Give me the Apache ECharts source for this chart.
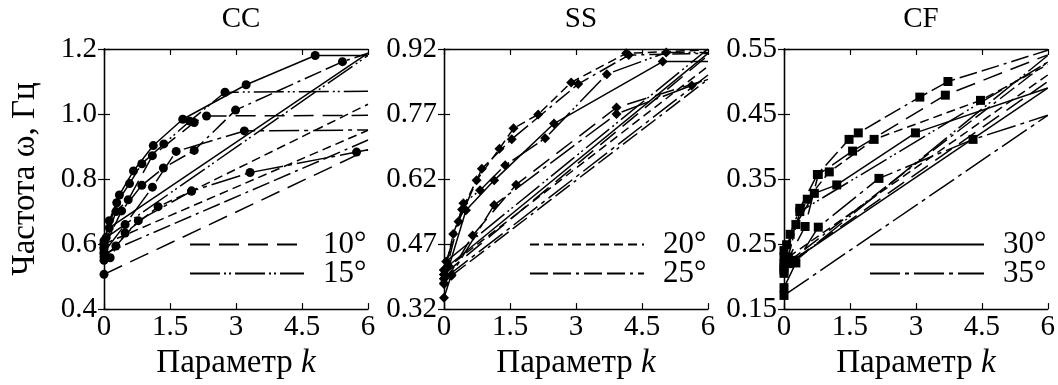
<!DOCTYPE html>
<html>
<head>
<meta charset="utf-8">
<script src="https://cdn.jsdelivr.net/npm/echarts@6/dist/echarts.min.js"></script>
<style>
  html, body { margin: 0; padding: 0; background: #fff; }
  #chart { width: 1058px; height: 385px; }
</style>
</head>
<body>
<div id="chart"></div>
<script>
// panel titles and axis ticks
const panels = ["CC", "SS", "CF"];
const xTicks = [0, 1.5, 3, 4.5, 6];
const ccTicks = [0.4, 0.6, 0.8, 1.0, 1.2];
const ssTicks = [0.32, 0.47, 0.62, 0.77, 0.92];
const cfTicks = [0.15, 0.25, 0.35, 0.45, 0.55];
const angles = ["10°", "15°", "20°", "25°", "30°", "35°"];

// CC curves, [k, omega]; last point is the line end without a marker
const cc10a = [[0, 0.585], [0.27, 0.70], [0.55, 0.736], [1.10, 0.872], [2.05, 0.974], [2.33, 0.994], [6, 0.996]];
const cc10b = [[0, 0.507], [6, 0.89]];
const cc15a = [[0, 0.61], [0.29, 0.727], [0.58, 0.786], [0.86, 0.847], [1.36, 0.908], [1.95, 0.978], [2.75, 1.067], [6, 1.07]];
const cc15b = [[0.05, 0.62], [6, 1.18]];
const cc20a = [[0, 0.55], [0.14, 0.558], [0.48, 0.634], [1.23, 0.715], [1.99, 0.763], [6, 1.03]];
const cc20b = [[0, 0.60], [6, 0.95]];
const cc25a = [[0, 0.59], [0.40, 0.702], [0.86, 0.781], [1.35, 0.834], [2.05, 0.888], [2.99, 1.012], [5.42, 1.161], [6, 1.187]];
const cc25b = [[0, 0.57], [6, 0.92]];
const cc30a = [[0, 0.60], [0.12, 0.672], [0.35, 0.751], [0.67, 0.825], [1.12, 0.903], [1.79, 0.984], [3.23, 1.09], [4.80, 1.18], [6, 1.18]];
const cc30b = [[0.12, 0.65], [6, 1.187]];
const cc35a = [[0, 0.575], [0.48, 0.66], [1.10, 0.775], [1.64, 0.885], [3.19, 0.948], [6, 0.951]];
const cc35b = [[0, 0.56], [0.27, 0.594], [0.78, 0.672], [1.99, 0.763], [3.32, 0.82], [5.74, 0.883], [6, 0.89]];

// SS curves
const ss10a = [[0, 0.378], [0.65, 0.49], [1.64, 0.607], [3.92, 0.785], [6, 0.85]];
const ss10b = [[0, 0.40], [6, 0.905]];
const ss15a = [[0, 0.41], [0.44, 0.564], [0.82, 0.594], [1.39, 0.652], [2.30, 0.714], [3.70, 0.862], [5.05, 0.912], [6, 0.912]];
const ss15b = [[0.05, 0.43], [6, 0.92]];
const ss20a = [[0, 0.40], [0.21, 0.493], [0.41, 0.55], [0.74, 0.617], [1.26, 0.690], [1.58, 0.737], [2.14, 0.769], [2.89, 0.843], [4.14, 0.910], [6, 0.918]];
const ss20b = [[0, 0.41], [6, 0.88]];
const ss25a = [[0, 0.39], [0.33, 0.522], [0.86, 0.644], [1.54, 0.712], [3.05, 0.839], [4.2, 0.906], [6, 0.91]];
const ss25b = [[0.17, 0.397], [6, 0.85]];
const ss30a = [[0, 0.38], [0.5, 0.548], [1.14, 0.617], [2.5, 0.748], [4.97, 0.891], [6, 0.891]];
const ss30b = [[0.1, 0.42], [6, 0.91]];
const ss35a = [[0, 0.346], [0.17, 0.40], [1.14, 0.56], [3.92, 0.77], [5.63, 0.836], [6, 0.85]];
const ss35b = [[0, 0.39], [6, 0.86]];

// CF curves
const cf10a = [[0, 0.215], [0.48, 0.277], [0.78, 0.357], [1.56, 0.393], [3.67, 0.479], [6, 0.541]];
const cf10b = [[0.2, 0.225], [6, 0.50]];
const cf15a = [[0, 0.205], [0.36, 0.30], [6, 0.53]];
const cf15b = [[0, 0.21], [6, 0.54]];
const cf20a = [[0, 0.24], [0.06, 0.249], [0.53, 0.319], [1.03, 0.361], [2.05, 0.411], [4.47, 0.471], [6, 0.526]];
const cf20b = [[0.1, 0.23], [6, 0.51]];
const cf25a = [[0, 0.22], [0.14, 0.265], [0.36, 0.305], [0.76, 0.357], [1.48, 0.411], [1.69, 0.421], [3.09, 0.476], [3.73, 0.500], [6, 0.548]];
const cf25b = [[0.05, 0.22], [6, 0.53]];
const cf30a = [[0, 0.23], [0.27, 0.28], [0.69, 0.328], [1.20, 0.341], [2.99, 0.421], [6, 0.49]];
const cf30b = [[0.1, 0.22], [6, 0.49]];
const cf35a = [[0, 0.183], [0.27, 0.221], [0.78, 0.276], [2.16, 0.351], [4.30, 0.411], [6, 0.448]];
const cf35b = [[0, 0.171], [6, 0.448]];

const FONT = "Liberation Serif";

// dash pattern for every angle
const dashes = {
  "10°": [20, 9],
  "15°": [30, 4, 2, 3, 2, 4],
  "20°": [9, 5],
  "25°": [18, 5, 18, 5, 3, 5],
  "30°": "solid",
  "35°": [30, 5, 4, 5],
};

const panelLines = [
  [[cc10a, "10°"], [cc10b, "10°"], [cc15a, "15°"], [cc15b, "15°"], [cc20a, "20°"], [cc20b, "20°"],
   [cc25a, "25°"], [cc25b, "25°"], [cc30a, "30°"], [cc30b, "30°"], [cc35a, "35°"], [cc35b, "35°"]],
  [[ss10a, "10°"], [ss10b, "10°"], [ss15a, "15°"], [ss15b, "15°"], [ss20a, "20°"], [ss20b, "20°"],
   [ss25a, "25°"], [ss25b, "25°"], [ss30a, "30°"], [ss30b, "30°"], [ss35a, "35°"], [ss35b, "35°"]],
  [[cf10a, "10°"], [cf10b, "10°"], [cf15a, "15°"], [cf15b, "15°"], [cf20a, "20°"], [cf20b, "20°"],
   [cf25a, "25°"], [cf25b, "25°"], [cf30a, "30°"], [cf30b, "30°"], [cf35a, "35°"], [cf35b, "35°"]],
];
const yTicks = [ccTicks, ssTicks, cfTicks];
const yDigits = [1, 2, 2];
const markers = ["circle", "diamond", "rect"];
const markerSize = [9, 10, 9];
const gridLeft = [104, 444, 784];
const GW = 264;

const chart = echarts.init(document.getElementById("chart"), null, { renderer: "canvas" });

const grids = [], xAxes = [], yAxes = [], series = [], titles = [], legends = [];

panels.forEach((name, p) => {
  grids.push({ left: gridLeft[p], top: 49, width: GW, height: 263 });
  const axisLine = { show: true, lineStyle: { color: "#000", width: 1.3 } };
  const tick = { show: true, inside: true, length: 6, lineStyle: { color: "#000", width: 1.2 } };
  const yt = yTicks[p];
  const yInt = +(yt[1] - yt[0]).toFixed(2);

  xAxes.push({
    gridIndex: p, type: "value", min: xTicks[0], max: xTicks[xTicks.length - 1], interval: 1.5,
    axisLine, axisTick: tick, splitLine: { show: false },
    axisLabel: { color: "#000", fontFamily: FONT, fontSize: 29, margin: 4 },
    name: "Параметр {i|k}", nameLocation: "middle", nameGap: 33,
    nameTextStyle: { color: "#000", fontFamily: FONT, fontSize: 33,
      rich: { i: { fontStyle: "italic", fontFamily: FONT, fontSize: 33, color: "#000" } } },
  });
  xAxes.push({
    gridIndex: p, type: "value", position: "top", min: 0, max: 6, interval: 1.5,
    axisLine, axisTick: tick, axisLabel: { show: false }, splitLine: { show: false },
  });
  yAxes.push({
    gridIndex: p, type: "value", min: yt[0], max: yt[yt.length - 1], interval: yInt,
    axisLine, axisTick: tick, splitLine: { show: false },
    axisLabel: { color: "#000", fontFamily: FONT, fontSize: 29, margin: 7,
      formatter: (v) => v.toFixed(yDigits[p]) },
    name: p === 0 ? "Частота ω, Гц" : "", nameLocation: "middle", nameGap: 62, nameRotate: 90,
    nameTextStyle: { color: "#000", fontFamily: FONT, fontSize: 33 },
  });
  yAxes.push({
    gridIndex: p, type: "value", position: "right", min: yt[0], max: yt[yt.length - 1], interval: yInt,
    axisLine, axisTick: tick, axisLabel: { show: false }, splitLine: { show: false },
  });

  titles.push({
    text: name, left: gridLeft[p] + GW / 2, top: 0, textAlign: "center",
    textStyle: { fontFamily: FONT, fontSize: 29, fontWeight: "normal", color: "#000" },
  });

  panelLines[p].forEach(([pts, ang]) => {
    series.push({
      type: "line", xAxisIndex: 2 * p, yAxisIndex: 2 * p,
      data: pts.map((pt, i) => (i === pts.length - 1 ? { value: pt, symbol: "none" } : pt)),
      symbol: markers[p], symbolSize: markerSize[p], showSymbol: true,
      color: "#000", itemStyle: { color: "#000" },
      lineStyle: { color: "#000", width: 1.5, type: dashes[ang] },
      animation: false, silent: true,
    });
  });

  // legend-only series: two angles per panel
  const legAngles = angles.slice(2 * p, 2 * p + 2);
  legAngles.forEach((ang) => {
    series.push({
      name: ang, type: "line", xAxisIndex: 2 * p, yAxisIndex: 2 * p, data: [],
      symbol: "none", color: "#000",
      lineStyle: { color: "#000", width: 1.5, type: dashes[ang] },
      animation: false,
    });
  });
  legends.push({
    data: legAngles, orient: "vertical", left: gridLeft[p] + 80, top: 224,
    itemWidth: 114, itemHeight: 14, itemGap: -2, selectedMode: false,
    itemStyle: { opacity: 0 },
    textStyle: { fontFamily: FONT, fontSize: 31, color: "#000", padding: [0, 0, 0, 14] },
  });
});

chart.setOption({
  animation: false,
  backgroundColor: "#fff",
  title: titles,
  legend: legends,
  grid: grids,
  xAxis: xAxes,
  yAxis: yAxes,
  series,
});
</script>
</body>
</html>
